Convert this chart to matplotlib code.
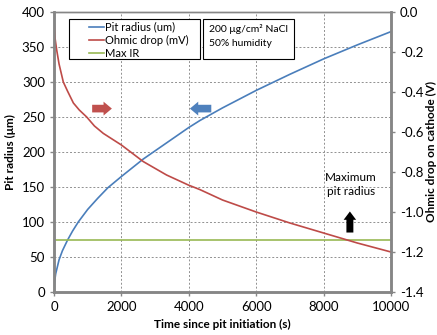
import numpy as np
import matplotlib.pyplot as plt
from matplotlib.patches import Rectangle

plt.rcParams['font.family'] = ['Lato', 'DejaVu Sans']

# pit radius (um) vs time (s)
t_pit = [0, 10, 50, 150, 250, 400, 550, 720, 1000, 1300, 1600, 2000, 2650, 3340,
         4000, 4330, 5000, 6000, 7000, 8000, 9000, 10000]
r_pit = [0, 12, 26, 46, 59, 74, 87, 100, 118, 134, 149, 165, 190, 213,
         235, 245, 263, 288, 311, 333, 353, 372]

# ohmic drop (V) vs time (s)
t_ohm = [0, 10, 30, 80, 150, 276, 400, 575, 750, 970, 1200, 1463, 2000, 2650,
         3340, 3985, 4330, 5000, 6000, 7000, 8000, 9000, 10000]
v_ohm = [-0.025, -0.08, -0.13, -0.19, -0.26, -0.35, -0.395, -0.455, -0.49, -0.525,
         -0.57, -0.607, -0.665, -0.748, -0.815, -0.865, -0.888, -0.94, -1.0,
         -1.055, -1.105, -1.155, -1.20]

max_ir = 74
x_lim = [0, 10000]

blue = '#4a7ebb'
red = '#be4b48'
green = '#98b954'
spine = '#868686'

fig = plt.figure(figsize=(4.37, 3.35), dpi=100)
ax = fig.add_axes([54/437, 43/335, 337/437, 280/335])
ax2 = ax.twinx()

h1, = ax.plot(t_pit, r_pit, color=blue, lw=1.2, label='Pit radius (um)')
h3, = ax.plot(x_lim, [max_ir, max_ir], color=green, lw=1.2, label='Max IR')
h2, = ax2.plot(t_ohm, v_ohm, color=red, lw=1.2, label='Ohmic drop (mV)')

ax.set_xlim(*x_lim)
ax.set_ylim(0, 400)
ax2.set_ylim(-1.4, 0.0)
ax.set_xticks(np.arange(0, 10001, 2000))
ax.set_yticks(np.arange(0, 401, 50))
rticks = np.round(np.arange(-1.4, 0.01, 0.2), 1)
ax2.set_yticks(rticks)
ax2.set_yticklabels(['%.1f' % v if v != 0 else '0.0' for v in rticks])

ax.grid(True, color='#909090', linestyle=(0, (2, 2)), lw=0.7)
ax.set_axisbelow(True)

for a in (ax, ax2):
    for s in a.spines.values():
        s.set_color(spine)
        s.set_linewidth(1.0)
    a.spines['left'].set_linewidth(1.8)
    a.spines['bottom'].set_linewidth(1.8)
    a.spines['right'].set_linewidth(1.8)
    a.tick_params(colors=spine, labelcolor='black', labelsize=9.5, length=3, width=1)

ax.set_xlabel('Time since pit initiation (s)', fontsize=8.5, fontweight='bold', labelpad=4)
ax.set_ylabel('Pit radius (\u03bcm)', fontsize=8.5, fontweight='bold', labelpad=4)
ax2.set_ylabel('Ohmic drop on cathode (V)', fontsize=8.5, fontweight='bold', labelpad=2)

# legend box
ax.add_patch(Rectangle((0.0445, 0.832), 0.3885, 0.143, transform=ax.transAxes,
                       fc='white', ec='black', lw=0.8, zorder=5))
leg = ax.legend(handles=[h1, h2, h3], loc='upper left', bbox_to_anchor=(0.095, 0.975),
                fontsize=8, frameon=False, borderaxespad=0, borderpad=0.25,
                handlelength=1.4, handletextpad=0.05, labelspacing=0.2)
leg.set_zorder(6)

# conditions box
ax.add_patch(Rectangle((0.442, 0.832), 0.27, 0.143, transform=ax.transAxes,
                       fc='white', ec='black', lw=0.8, zorder=5))
ax.text(0.46, 0.939, '200 \u03bcg/cm\u00b2 NaCl', transform=ax.transAxes,
        fontsize=7.5, va='center', ha='left', zorder=6)
ax.text(0.46, 0.889, '50% humidity', transform=ax.transAxes,
        fontsize=7.5, va='center', ha='left', zorder=6)

# direction arrows
ax.annotate('', xy=(1800, 262), xytext=(1050, 262),
            arrowprops=dict(arrowstyle='simple,head_width=1.0,head_length=0.6,tail_width=0.55',
                            color='#c0504d', lw=0))
ax.annotate('', xy=(3950, 262), xytext=(4750, 262),
            arrowprops=dict(arrowstyle='simple,head_width=1.0,head_length=0.6,tail_width=0.55',
                            color='#4f81bd', lw=0))
ax.annotate('', xy=(8780, 119), xytext=(8780, 81),
            arrowprops=dict(arrowstyle='simple,head_width=0.9,head_length=0.6,tail_width=0.5',
                            color='black', lw=0))
ax.text(8820, 154, 'Maximum\npit radius', fontsize=8.5, ha='center', va='center', linespacing=1.3)

fig.savefig('out.png', dpi=100)
